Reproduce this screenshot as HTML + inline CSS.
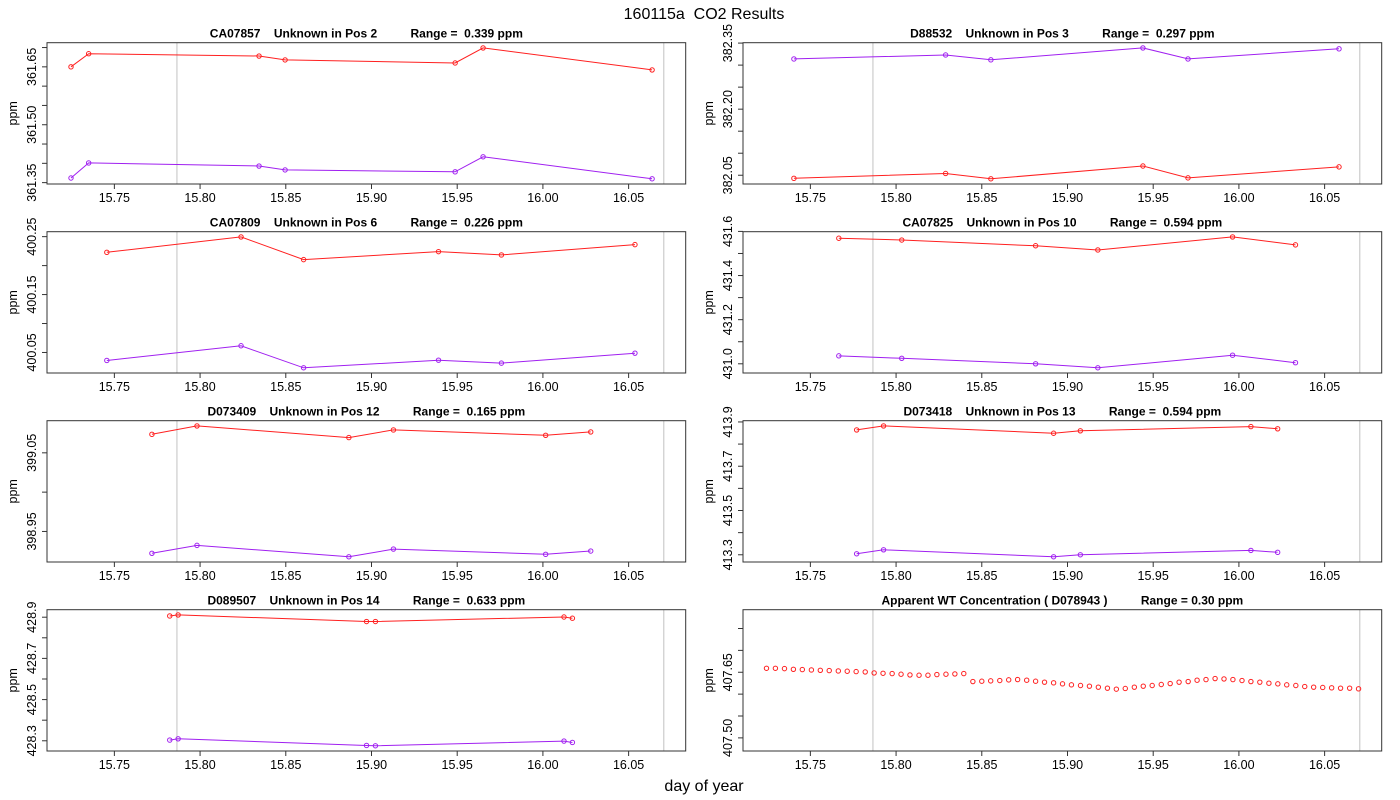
<!DOCTYPE html>
<html><head><meta charset="utf-8"><title>160115a CO2 Results</title>
<style>
html,body{margin:0;padding:0;background:#fff;}
svg{display:block;font-family:"Liberation Sans",Arial,sans-serif;}
</style></head>
<body>
<svg id="chart" width="1400" height="800" viewBox="0 0 1400 800" xmlns="http://www.w3.org/2000/svg">
<rect width="1400" height="800" fill="#fff"/>
<text x="704" y="19" font-size="16" text-anchor="middle" style="white-space:pre">160115a  CO2 Results</text>
<text x="704" y="791" font-size="16" text-anchor="middle">day of year</text>
</svg>
<script>
// shared x axis
const xTicks = [15.75, 15.80, 15.85, 15.90, 15.95, 16.00, 16.05];
const xTickLabels = ["15.75","15.80","15.85","15.90","15.95","16.00","16.05"];
const xLim = [15.7107, 16.0833];
const greyLines = [15.7865, 16.0705];

// panel titles
const titles = [
 "CA07857    Unknown in Pos 2          Range =  0.339 ppm",
 "D88532    Unknown in Pos 3          Range =  0.297 ppm",
 "CA07809    Unknown in Pos 6          Range =  0.226 ppm",
 "CA07825    Unknown in Pos 10          Range =  0.594 ppm",
 "D073409    Unknown in Pos 12          Range =  0.165 ppm",
 "D073418    Unknown in Pos 13          Range =  0.594 ppm",
 "D089507    Unknown in Pos 14          Range =  0.633 ppm",
 "Apparent WT Concentration ( D078943 )          Range = 0.30 ppm"
];

// panel 1
const p1Days = [15.7247, 15.7350, 15.8344, 15.8496, 15.9488, 15.9651, 16.0637];
const p1Red = [361.650, 361.684, 361.678, 361.668, 361.660, 361.699, 361.642];
const p1Purple = [361.362, 361.401, 361.393, 361.383, 361.378, 361.417, 361.360];
const p1Ticks = [361.35,361.40,361.45,361.50,361.55,361.60,361.65,361.70];
const p1Labels = ["361.35","","","361.50","","","361.65",""];
// panel 2
const p2Days = [15.7404, 15.8289, 15.8553, 15.9440, 15.9703, 16.0584];
const p2Red = [382.043, 382.054, 382.042, 382.071, 382.044, 382.069];
const p2Purple = [382.314, 382.323, 382.312, 382.339, 382.314, 382.337];
const p2Ticks = [382.05,382.10,382.15,382.20,382.25,382.30,382.35];
const p2Labels = ["382.05","","","382.20","","","382.35"];
// panel 3
const p3Days = [15.7456, 15.8239, 15.8604, 15.9391, 15.9758, 16.0537];
const p3Red = [400.2229, 400.2495, 400.2103, 400.2241, 400.2184, 400.2362];
const p3Purple = [400.0362, 400.0616, 400.0236, 400.0367, 400.0316, 400.0488];
const p3Ticks = [400.05,400.10,400.15,400.20,400.25];
const p3Labels = ["400.05","","400.15","","400.25"];
// panel 4
const p4Days = [15.7666, 15.8033, 15.8814, 15.9177, 15.9963, 16.0330];
const p4Red = [431.569, 431.561, 431.535, 431.516, 431.575, 431.539];
const p4Purple = [431.036, 431.025, 431.000, 430.982, 431.039, 431.005];
const p4Ticks = [431.0,431.1,431.2,431.3,431.4,431.5,431.6];
const p4Labels = ["431.0","","431.2","","431.4","","431.6"];
// panel 5
const p5Days = [15.7719, 15.7982, 15.8868, 15.9128, 16.0016, 16.0279];
const p5Red = [399.0735, 399.0842, 399.0694, 399.0791, 399.0723, 399.0766];
const p5Purple = [398.9222, 398.9323, 398.9178, 398.9276, 398.9209, 398.9251];
const p5Ticks = [398.95,399.00,399.05];
const p5Labels = ["398.95","","399.05"];
// panel 6
const p6Days = [15.7770, 15.7927, 15.8919, 15.9075, 16.0070, 16.0226];
const p6Red = [413.864, 413.882, 413.849, 413.860, 413.879, 413.869];
const p6Purple = [413.3045, 413.3225, 413.291, 413.300, 413.3198, 413.311];
const p6Ticks = [413.3,413.4,413.5,413.6,413.7,413.8,413.9];
const p6Labels = ["413.3","","413.5","","413.7","","413.9"];
// panel 7
const p7Days = [15.7823, 15.7872, 15.8971, 15.9023, 16.0123, 16.0172];
const p7Red = [428.906, 428.911, 428.879, 428.879, 428.901, 428.895];
const p7Purple = [428.3034, 428.3097, 428.2773, 428.2758, 428.2985, 428.2918];
const p7Ticks = [428.3,428.4,428.5,428.6,428.7,428.8,428.9];
const p7Labels = ["428.3","","428.5","","428.7","","428.9"];
// panel 8 (WT)
const p8Days = [15.7244,15.7296,15.7349,15.7401,15.7453,15.7506,15.7558,15.7610,15.7663,15.7715,15.7767,15.7820,15.7872,15.7924,15.7977,15.8029,15.8081,15.8134,15.8186,15.8238,15.8291,15.8343,15.8395,15.8448,15.8500,15.8552,15.8605,15.8657,15.8709,15.8762,15.8814,15.8866,15.8919,15.8971,15.9023,15.9076,15.9128,15.9180,15.9233,15.9285,15.9337,15.9390,15.9442,15.9494,15.9547,15.9599,15.9651,15.9704,15.9756,15.9808,15.9861,15.9913,15.9965,16.0018,16.0070,16.0122,16.0175,16.0227,16.0279,16.0332,16.0384,16.0436,16.0489,16.0541,16.0593,16.0646,16.0698];
const p8Values = [407.6591,407.6591,407.6583,407.6568,407.6561,407.6553,407.6545,407.6538,407.6530,407.6523,407.6515,407.6508,407.6485,407.6477,407.6470,407.6455,407.6439,407.6432,407.6432,407.6447,407.6455,407.6462,407.6470,
407.6288,407.6295,407.6303,407.6311,407.6326,407.6333,407.6318,407.6295,407.6273,407.6258,407.6235,407.6212,407.6197,407.6182,407.6159,407.6136,407.6114,407.6129,407.6159,407.6182,407.6197,407.6220,407.6242,407.6273,407.6288,407.6318,407.6333,407.6356,407.6348,407.6333,407.6311,407.6288,407.6273,407.6250,407.6235,407.6212,407.6197,407.6174,407.6159,407.6152,407.6144,407.6136,407.6136,407.6121];
const p8Ticks = [407.50,407.55,407.60,407.65,407.70,407.75];
const p8Labels = ["407.50","","","407.65","",""];
const p8YLim = [407.470, 407.793];

const NS = "http://www.w3.org/2000/svg";
const svg = document.getElementById("chart");
function mk(tag, attrs, parent){
  const e = document.createElementNS(NS, tag);
  for (const k in attrs) e.setAttribute(k, attrs[k]);
  (parent||svg).appendChild(e);
  return e;
}
const colX = [47, 743], boxW = 638.7;
const rowY = [42.7, 231.7, 420.7, 609.7], boxH = 141.3;

function drawPanel(idx, days, series, ticks, labels, yLimIn){
  const col = idx % 2, row = Math.floor(idx / 2);
  const L = colX[col], T = rowY[row], R = L + boxW, B = T + boxH;
  const g = mk("g", {});
  
  
  let ylim = yLimIn;
  if (!ylim){
    let all = [];
    series.forEach(s => all = all.concat(s.values));
    const mn = Math.min(...all), mx = Math.max(...all), ext = (mx-mn)*0.04;
    ylim = [mn-ext, mx+ext];
  }
  const xs = d => L + (d - xLim[0]) / (xLim[1]-xLim[0]) * boxW;
  const ys = v => B - (v - ylim[0]) / (ylim[1]-ylim[0]) * boxH;
  greyLines.forEach(d => {
    const ln = mk("line", {x1:xs(d), x2:xs(d), y1:T, y2:B, stroke:"#cccccc", "stroke-width":1.2}, g);
    
    
  });
  series.forEach(s => {
    if (s.line){
      const pts = days.map((d,i) => xs(d).toFixed(1)+","+ys(s.values[i]).toFixed(1)).join(" ");
      const pl = mk("polyline", {points:pts, fill:"none", stroke:s.color, "stroke-width":1}, g);
      
      
    }
    days.forEach((d,i) => {
      const c = mk("circle", {cx:xs(d), cy:ys(s.values[i]), r:2.2, fill:"none", stroke:s.color, "stroke-width":1}, g);
      
      
    });
  });
  const bx = mk("rect", {x:L, y:T, width:boxW, height:boxH, fill:"none", stroke:"#333", "stroke-width":1}, g);
  
  
  xTicks.forEach((t,i) => {
    const x = xs(t);
    const tk = mk("line", {x1:x, x2:x, y1:B, y2:B+5, stroke:"#333"}, g);
    
    
    const tx = mk("text", {x:x, y:B+18, "font-size":12.5, "text-anchor":"middle", fill:"#000"}, g);
    tx.textContent = xTickLabels[i];
    
    
  });
  ticks.forEach((t,i) => {
    const y = ys(t);
    const tk = mk("line", {x1:L-5, x2:L, y1:y, y2:y, stroke:"#333"}, g);
    
    
    if (labels[i]){
      const tx = mk("text", {x:0, y:0, "font-size":12.5, "text-anchor":"middle",
        transform:"translate("+(L-11)+","+y+") rotate(-90)"}, g);
      tx.textContent = labels[i];
      
      
    }
  });
  const yt = mk("text", {x:0, y:0, "font-size":12.5, "text-anchor":"middle",
    transform:"translate("+(L-30)+","+(T+boxH/2)+") rotate(-90)"}, g);
  yt.textContent = "ppm";
  
  
  const pt = mk("text", {x:L+boxW/2, y:T-5, "font-size":12, "font-weight":"bold", "text-anchor":"middle"}, g);
  pt.style.whiteSpace = "pre";
  pt.textContent = titles[idx];
  
  
}
const RED = "#ff2020", PUR = "#a020f0";
drawPanel(0, p1Days, [{name:"red",color:RED,values:p1Red,line:true},{name:"purple",color:PUR,values:p1Purple,line:true}], p1Ticks, p1Labels);
drawPanel(1, p2Days, [{name:"red",color:RED,values:p2Red,line:true},{name:"purple",color:PUR,values:p2Purple,line:true}], p2Ticks, p2Labels);
drawPanel(2, p3Days, [{name:"red",color:RED,values:p3Red,line:true},{name:"purple",color:PUR,values:p3Purple,line:true}], p3Ticks, p3Labels);
drawPanel(3, p4Days, [{name:"red",color:RED,values:p4Red,line:true},{name:"purple",color:PUR,values:p4Purple,line:true}], p4Ticks, p4Labels);
drawPanel(4, p5Days, [{name:"red",color:RED,values:p5Red,line:true},{name:"purple",color:PUR,values:p5Purple,line:true}], p5Ticks, p5Labels);
drawPanel(5, p6Days, [{name:"red",color:RED,values:p6Red,line:true},{name:"purple",color:PUR,values:p6Purple,line:true}], p6Ticks, p6Labels);
drawPanel(6, p7Days, [{name:"red",color:RED,values:p7Red,line:true},{name:"purple",color:PUR,values:p7Purple,line:true}], p7Ticks, p7Labels);
drawPanel(7, p8Days, [{name:"wt",color:RED,values:p8Values,line:false}], p8Ticks, p8Labels, p8YLim);
</script>
</body></html>
